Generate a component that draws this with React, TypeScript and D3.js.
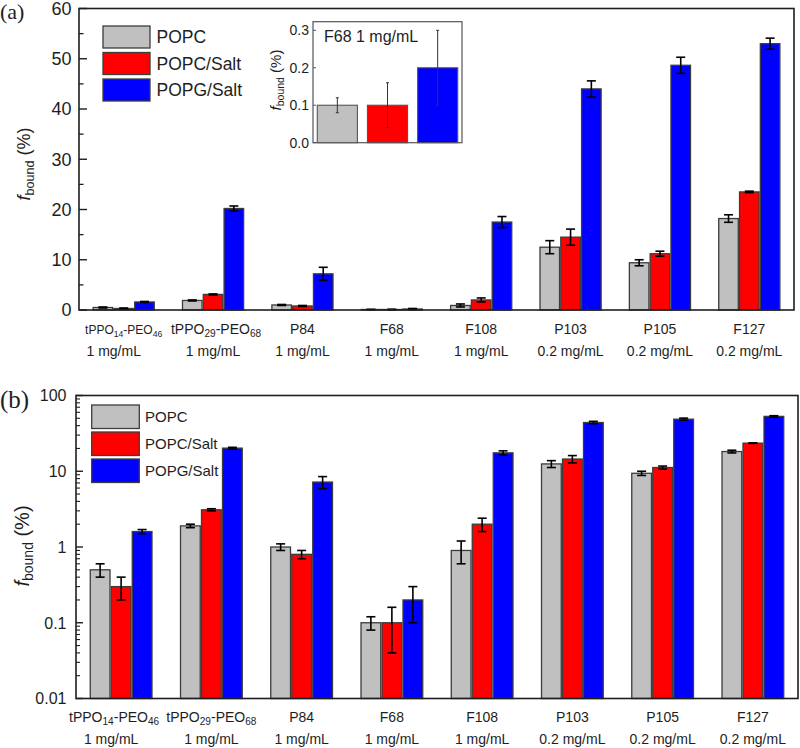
import React from "react";
import * as d3 from "d3";

const categories = ["tPPO14-PEO46", "tPPO29-PEO68", "P84", "F68", "F108", "P103", "P105", "F127"];
const concentrations = ["1 mg/mL", "1 mg/mL", "1 mg/mL", "1 mg/mL", "1 mg/mL", "0.2 mg/mL", "0.2 mg/mL", "0.2 mg/mL"];
const seriesNames = ["POPC", "POPC/Salt", "POPG/Salt"];
const popc = [0.5, 1.9, 1.0, 0.1, 0.9, 12.5, 9.4, 18.2];
const popcErr = [0.1, 0.1, 0.1, 0.02, 0.3, 1.3, 0.6, 0.75];
const popcSalt = [0.3, 3.1, 0.8, 0.1, 2.0, 14.5, 11.2, 23.5];
const popcSaltErr = [0.1, 0.1, 0.1, 0.06, 0.4, 1.6, 0.5, 0.15];
const popgSalt = [1.6, 20.2, 7.2, 0.2, 17.5, 44.0, 48.7, 53.0];
const popgSaltErr = [0.1, 0.5, 1.3, 0.1, 1.1, 1.6, 1.6, 1.1];
const linearTicks = [0, 10, 20, 30, 40, 50, 60];
const logTicks = [0.01, 0.1, 1, 10, 100];
const logTickLabels = ["0.01", "0.1", "1", "10", "100"];
const insetTicks = [0.0, 0.1, 0.2, 0.3];
const insetCategory = "F68";

const colors = ["#c0c0c0", "#ff0000", "#0000ff"];
const values = [popc, popcSalt, popgSalt];
const errors = [popcErr, popcSaltErr, popgSaltErr];

const FONT = "Liberation Sans, Arial, Helvetica, sans-serif";
const SERIF = "Liberation Serif, Times New Roman, serif";
const INK = "#1e1e1e";
const OUTLINE = "#3c3c3c";

function CatLabel({ name, x, y, size }: { name: string; x: number; y: number; size: number }) {
  const m = name.match(/^tPPO(\d+)-PEO(\d+)$/);
  const sub = size * 0.72;
  if (m) {
    return (
      <text x={x} y={y} textAnchor="middle" fontSize={size} fontFamily={FONT} fill={INK}>
        <tspan>tPPO</tspan>
        <tspan fontSize={sub} dy={3}>{m[1]}</tspan>
        <tspan dy={-3}>-PEO</tspan>
        <tspan fontSize={sub} dy={3}>{m[2]}</tspan>
      </text>
    );
  }
  return (
    <text x={x} y={y} textAnchor="middle" fontSize={size} fontFamily={FONT} fill={INK}>
      {name}
    </text>
  );
}

function YLabel({ x, y, size }: { x: number; y: number; size: number }) {
  return (
    <text transform={`translate(${x},${y}) rotate(-90)`} textAnchor="middle" fontSize={size} fontFamily={FONT} fill={INK}>
      <tspan fontStyle="italic">f</tspan>
      <tspan fontSize={size * 0.7} dy={size * 0.22}>bound</tspan>
      <tspan dy={-size * 0.22}> (%)</tspan>
    </text>
  );
}

type PanelProps = {
  left: number; right: number; top: number; bottom: number;
  log: boolean;
};

function Bars({ left, right, top, bottom, log }: PanelProps) {
  const x0 = d3.scaleBand<string>().domain(categories).range([left, right]).padding(0);
  const groupW = x0.step() * 0.684;
  const x1 = d3.scaleBand<string>().domain(seriesNames).range([0, groupW]).paddingInner(0.06).paddingOuter(0);
  const y: any = log
    ? d3.scaleLog().domain([0.01, 100]).range([bottom, top])
    : d3.scaleLinear().domain([0, 60]).range([bottom, top]);
  const base = log ? bottom : y(0);
  const cap = 4.5;
  const els: any[] = [];
  categories.forEach((c, i) => {
    const gx = (x0(c) as number) + (x0.step() - groupW) / 2;
    seriesNames.forEach((s, j) => {
      const v = values[j][i];
      const e = errors[j][i];
      const bx = gx + (x1(s) as number);
      const bw = x1.bandwidth();
      const yt = y(v);
      els.push(
        <rect key={`b${i}-${j}`} x={bx} y={yt} width={bw} height={Math.max(0, base - yt)} fill={colors[j]} stroke={OUTLINE} strokeWidth={1.3} />
      );
      const cx = bx + bw / 2;
      const y1 = y(v + e);
      const y2 = y(v - e);
      els.push(
        <g key={`e${i}-${j}`} stroke="#000" strokeWidth={1.6}>
          <line x1={cx} x2={cx} y1={y1} y2={y2} />
          <line x1={cx - cap} x2={cx + cap} y1={y1} y2={y1} />
          <line x1={cx - cap} x2={cx + cap} y1={y2} y2={y2} />
        </g>
      );
    });
  });
  return <g>{els}</g>;
}

function Legend({ x, y, boxW, boxH, gap, fontSize, textX }: any) {
  return (
    <g>
      {seriesNames.map((s, j) => (
        <g key={s}>
          <rect x={x} y={y + j * gap} width={boxW} height={boxH} fill={colors[j]} stroke={OUTLINE} strokeWidth={1.3} />
          <text x={textX} y={y + j * gap + boxH / 2} dy="0.36em" fontSize={fontSize} fontFamily={FONT} fill={INK}>{s}</text>
        </g>
      ))}
    </g>
  );
}

function Inset() {
  const left = 313, right = 462, top = 21.7, bottom = 142.7;
  const idx = categories.indexOf(insetCategory);
  const y = d3.scaleLinear().domain([0, 0.323]).range([bottom, top]);
  const x = d3.scaleBand<string>().domain(seriesNames).range([left, right]).paddingInner(0.2).paddingOuter(0.085);
  return (
    <g>
      <rect x={left} y={top} width={right - left} height={bottom - top} fill="#fff" stroke="#555" strokeWidth={1.2} />
      {seriesNames.map((s, j) => {
        const v = values[j][idx];
        const e = errors[j][idx];
        const bx = x(s) as number;
        const cx = bx + x.bandwidth() / 2;
        return (
          <g key={s}>
            <rect x={bx} y={y(v)} width={x.bandwidth()} height={bottom - y(v)} fill={colors[j]} stroke="#555" strokeWidth={1.1} />
            <g stroke="#333" strokeWidth={1}>
              <line x1={cx} x2={cx} y1={y(v + e)} y2={y(v - e)} />
              <line x1={cx - 1.5} x2={cx + 1.5} y1={y(v + e)} y2={y(v + e)} />
              <line x1={cx - 1.5} x2={cx + 1.5} y1={y(v - e)} y2={y(v - e)} />
            </g>
          </g>
        );
      })}
      {insetTicks.map((t) => (
        <g key={`it${t}`}>
          <line x1={left} x2={left + 3} y1={y(t)} y2={y(t)} stroke="#555" strokeWidth={1} />
          <text x={309} y={y(t)} dy="0.36em" textAnchor="end" fontSize={14} fontFamily={FONT} fill={INK}>{t.toFixed(1)}</text>
        </g>
      ))}
      <text x={324} y={41.5} fontSize={16} fontFamily={FONT} fill={INK}>{`${insetCategory} ${concentrations[idx]}`}</text>
      <YLabel x={281} y={80} size={15} />
    </g>
  );
}

function PanelA() {
  const left = 79, right = 794, top = 8.5, bottom = 310;
  const y = d3.scaleLinear().domain([0, 60]).range([bottom, top]);
  const x0 = d3.scaleBand<string>().domain(categories).range([left, right]).padding(0);
  const minor = d3.range(5, 60, 10);
  return (
    <g>
      <text x={0} y={19} fontSize={22} fontFamily={SERIF} fill={INK}>(a)</text>
      <Bars left={left} right={right} top={top} bottom={bottom} log={false} />
      <rect x={left} y={top} width={right - left} height={bottom - top} fill="none" stroke={INK} strokeWidth={1.6} />
      {linearTicks.map((t) => (
        <g key={`t${t}`}>
          <line x1={left} x2={left + 8} y1={y(t)} y2={y(t)} stroke={INK} strokeWidth={1.4} />
          <text x={71.5} y={y(t)} dy="0.36em" textAnchor="end" fontSize={18} fontFamily={FONT} fill={INK}>{t}</text>
        </g>
      ))}
      {minor.map((t) => (
        <line key={`m${t}`} x1={left} x2={left + 4.5} y1={y(t)} y2={y(t)} stroke={INK} strokeWidth={1.3} />
      ))}
      <YLabel x={30} y={164} size={18} />
      {categories.map((c, i) => {
        const cx = (x0(c) as number) + x0.step() / 2;
        return (
          <g key={`l${c}`}>
            <CatLabel name={c} x={cx + (i === 0 ? 0 : i === 1 ? 3 : 0)} y={334} size={i === 0 ? 12 : 14} />
            <text x={cx - (i === 0 ? 10 : 0)} y={356} textAnchor="middle" fontSize={14} fontFamily={FONT} fill={INK}>{concentrations[i]}</text>
          </g>
        );
      })}
      <Legend x={103} y={26} boxW={47} boxH={22} gap={26.5} fontSize={17.5} textX={156.5} />
      <Inset />
    </g>
  );
}

function PanelB() {
  const left = 76, right = 798, top = 395.5, bottom = 698.5;
  const y = d3.scaleLog().domain([0.01, 100]).range([bottom, top]);
  const x0 = d3.scaleBand<string>().domain(categories).range([left, right]).padding(0);
  const minor: number[] = [];
  [0.01, 0.1, 1, 10].forEach((d) => {
    for (let k = 2; k <= 9; k++) minor.push(d * k);
  });
  return (
    <g>
      <text x={0} y={408} fontSize={25} fontFamily={SERIF} fill={INK}>(b)</text>
      <Bars left={left} right={right} top={top} bottom={bottom} log={true} />
      <rect x={left} y={top} width={right - left} height={bottom - top} fill="none" stroke={INK} strokeWidth={1.6} />
      {logTicks.map((t, i) => (
        <g key={`t${t}`}>
          <line x1={left} x2={left + 7} y1={y(t)} y2={y(t)} stroke={INK} strokeWidth={1.4} />
          <text x={66.5} y={y(t)} dy="0.36em" textAnchor="end" fontSize={16} fontFamily={FONT} fill={INK}>{logTickLabels[i]}</text>
        </g>
      ))}
      {minor.map((t) => (
        <line key={`m${t}`} x1={left} x2={left + 4} y1={y(t)} y2={y(t)} stroke={INK} strokeWidth={1.1} />
      ))}
      <YLabel x={29} y={546} size={20} />
      {categories.map((c, i) => {
        const cx = (x0(c) as number) + x0.step() / 2;
        return (
          <g key={`l${c}`}>
            <CatLabel name={c} x={cx - (i === 0 ? 7 : 0)} y={722} size={14} />
            <text x={cx - (i === 0 ? 10 : 0)} y={743.5} textAnchor="middle" fontSize={14} fontFamily={FONT} fill={INK}>{concentrations[i]}</text>
          </g>
        );
      })}
      <Legend x={91.7} y={405} boxW={47.6} boxH={23.5} gap={27} fontSize={15} textX={145} />
    </g>
  );
}

export default function App() {
  return (
    <svg width={800} height={748} viewBox="0 0 800 748" fontFamily={FONT} style={{ position: "absolute", left: 0, top: 0, background: "#fff" }}>
      <rect x={0} y={0} width={800} height={748} fill="#fff" />
      <PanelA />
      <PanelB />
    </svg>
  );
}
